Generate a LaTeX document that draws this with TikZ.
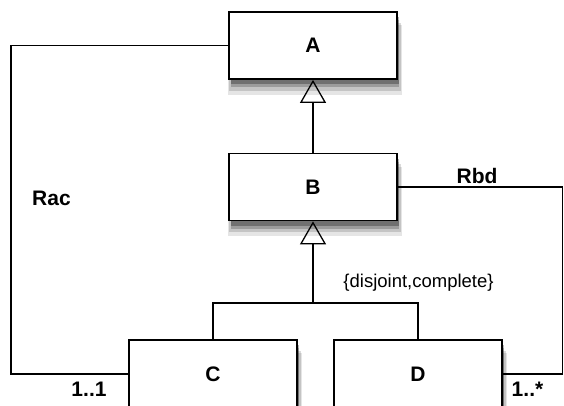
\documentclass[tikz,border=0pt]{standalone}
\usepackage{fontspec}
\setmainfont{Liberation Sans}
\usepackage{tikz}
\usetikzlibrary{arrows.meta, positioning, shadows}
\newcommand{\lblfont}{\fontsize{21}{25}\selectfont\bfseries}
\newcommand{\notefont}{\fontsize{18.5}{22}\selectfont}

\begin{document}
\begin{tikzpicture}[x=1pt, y=1pt,
  cls/.style={draw=black, fill=white, line width=1.8pt, minimum width=168pt,
    minimum height=67pt, inner sep=0pt, font=\lblfont,
    drop shadow={shadow xshift=2pt, shadow yshift=-14pt, shadow scale=1.04, opacity=0.10, fill=black},
    drop shadow={shadow xshift=2pt, shadow yshift=-11pt, shadow scale=1.02, opacity=0.14, fill=black},
    drop shadow={shadow xshift=2pt, shadow yshift=-8pt, opacity=0.20, fill=black},
    drop shadow={shadow xshift=1.5pt, shadow yshift=-5pt, opacity=0.28, fill=black}},
  assoc/.style={draw=black, line width=1.3pt},
  gen/.style={assoc, -{Triangle[open, width=26pt, length=23pt, line width=1.3pt]}},
  lbl/.style={font=\lblfont, anchor=base, inner sep=0pt},
  note/.style={font=\notefont, anchor=base, inner sep=0pt}]
\useasboundingbox (0,0) rectangle (564,405);
\fill[white] (0,0) rectangle (564,405);
% rails for the two associations
\coordinate (lrail) at (11,0);
\coordinate (rrail) at (562.5,0);
\coordinate (fork) at (313,102);
% classes
\node[cls] (A) at (313,359.5) {A};
\node[cls] (B) at (313,218) {B};
\node[cls, minimum height=68pt] (C) at (213,31) {C};
\node[cls, minimum height=68pt] (D) at (418,31) {D};
% associations
\draw[assoc] (A.west) -| (lrail |- C.west) -- (C.west);
\draw[assoc] (B.east) -| (rrail |- D.east) -- (D.east);
% generalisations
\draw[gen] (B.north) -- (A.south);
\draw[assoc] (C.north) |- (fork) -| (D.north);
\draw[gen] (fork) -- (B.south);
% labels
\node[lbl] (rac) at (51.5,200) {Rac};
\node[lbl] (rbd) at (477,222) {Rbd};
\node[note] (gset) at (418.5,118) {\{disjoint,complete\}};
\node[lbl] (mc) at (89,9) {1..1};
\node[lbl] (md) at (527.5,9) {1..*};
\end{tikzpicture}
\end{document}
